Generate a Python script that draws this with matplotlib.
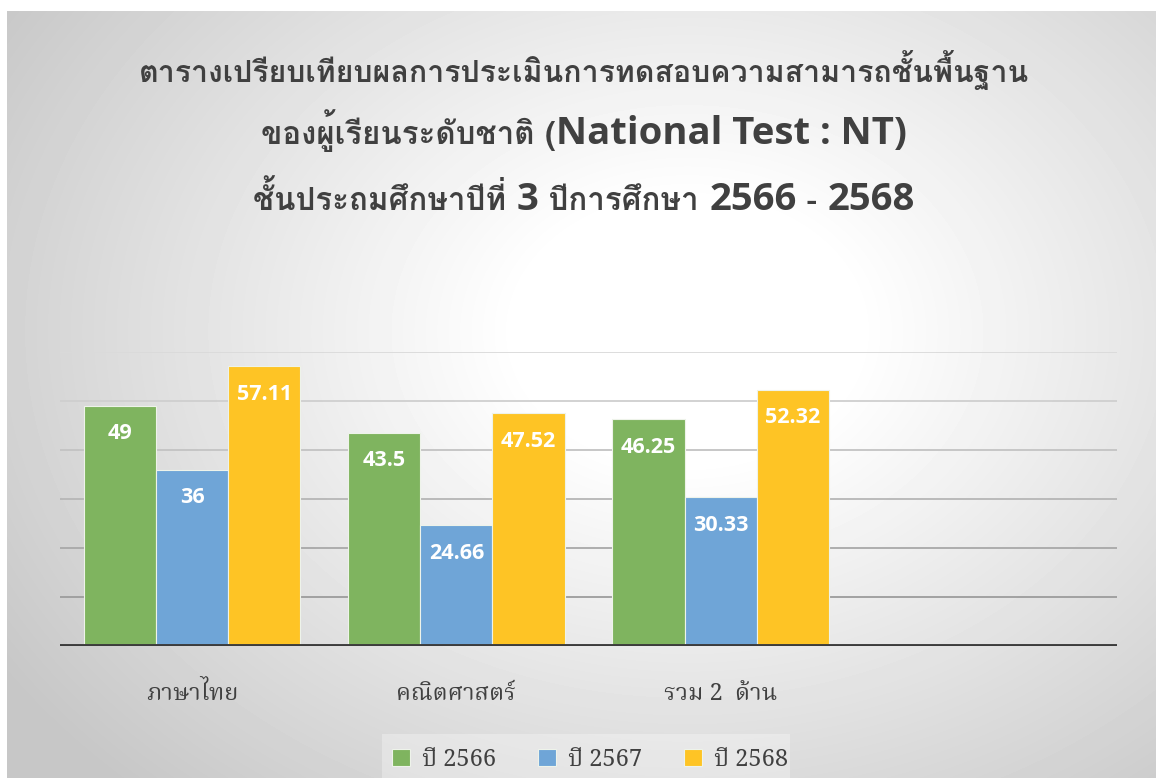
import numpy as np
import matplotlib
matplotlib.use('Agg')
import matplotlib.pyplot as plt
from matplotlib import font_manager
from matplotlib.ft2font import FT2Font
from matplotlib.patches import Rectangle


# ข้อมูล
subjects = ['ภาษาไทย', 'คณิตศาสตร์', 'รวม 2  ด้าน', '']
years = ['ปี 2566', 'ปี 2567', 'ปี 2568']
score_2566 = [49, 43.5, 46.25]
score_2567 = [36, 24.66, 30.33]
score_2568 = [57.11, 47.52, 52.32]
label_2566 = ['49', '43.5', '46.25']
label_2567 = ['36', '24.66', '30.33']
label_2568 = ['57.11', '47.52', '52.32']
colors = ['#7fb45f', '#6fa5d7', '#fec425']


def find_thai_fonts():
    found = {}
    for fe in font_manager.fontManager.ttflist:
        try:
            f = FT2Font(fe.fname)
            if f.get_char_index(ord('ก')) != 0:
                found.setdefault(fe.name, set()).add(fe.weight)
        except Exception:
            pass
    return found


thai_fonts = find_thai_fonts()
prefer = ['Noto Serif Thai', 'Noto Sans Thai', 'Garuda', 'Loma', 'Norasi',
          'Kinnari', 'TH Sarabun New', 'Laksaman', 'Tlwg Typo']


def is_bold(ws):
    return any((isinstance(wv, int) and wv >= 600) or wv == 'bold' for wv in ws)


thai_name = None
thai_bold = None
for p in prefer:
    if p in thai_fonts:
        if thai_name is None:
            thai_name = p
        if thai_bold is None and is_bold(thai_fonts[p]):
            thai_bold = p
if thai_name is None and thai_fonts:
    thai_name = sorted(thai_fonts)[0]
if thai_bold is None:
    thai_bold = thai_name
thai_family = [thai_name, 'DejaVu Sans'] if thai_name else ['DejaVu Sans']
bold_family = [thai_bold, 'DejaVu Sans'] if thai_bold else ['DejaVu Sans']

plt.rcParams['font.family'] = thai_family

fig = plt.figure(figsize=(11.56, 7.78), dpi=100)
W, H = 1156, 778

# พื้นหลังไล่สี
bg = fig.add_axes([7 / W, 0, 1 - 7 / W, 767 / H], zorder=-10)
yy, xx = np.mgrid[0:767, 0:1149]
d = np.sqrt(((xx - 680) / 850.0) ** 2 + ((yy - 320) / 650.0) ** 2)
img = np.clip(1.0 - 0.29 * np.clip(d - 0.2, 0, None), 0.78, 1.0)
bg.imshow(img, cmap='gray', vmin=0, vmax=1, aspect='auto',
          extent=[0, 1, 0, 1], interpolation='bilinear')
bg.set_axis_off()

ax = fig.add_axes([60 / W, (H - 646) / H, (1117 - 60) / W, (646 - 352) / H])
ax.patch.set_alpha(0)

x = np.arange(len(subjects))
n = len(score_2566)
w = 0.273
series = [score_2566, score_2567, score_2568]
labels = [label_2566, label_2567, label_2568]
for i, (vals, labs) in enumerate(zip(series, labels)):
    pos = x[:n] + (i - 1) * w
    ax.bar(pos, vals, width=w, color=colors[i], edgecolor='#eef3ea',
           linewidth=0.8, zorder=3, label=years[i])
    for px, v, t in zip(pos, vals, labs):
        ax.text(px, v - 5.7, t, ha='center', va='center', color='white',
                fontsize=15.5, fontweight='bold', family='Open Sans', zorder=4)

ax.set_xlim(-0.5, 3.5)
ax.set_ylim(0, 60)
grid_cols = ['#9c9c9c', '#a8a8a8', '#b6b6b6', '#c3c3c3', '#cfcfcf', '#dadada']
for k, yv in enumerate(range(10, 61, 10)):
    ax.axhline(yv, color=grid_cols[k], linewidth=1.3, zorder=1)
ax.axhline(0, color='#3c3c3c', linewidth=2.8, zorder=5)
for s in ax.spines.values():
    s.set_visible(False)
ax.set_yticks([])
ax.set_xticks(x)
ax.set_xticklabels(subjects, fontsize=17, color='#404040')
ax.tick_params(axis='x', length=0, pad=26)

# คำอธิบาย
leg_ax = fig.add_axes([0, 0, 1, 1], zorder=-5)
leg_ax.set_axis_off()
leg_ax.add_patch(Rectangle((382 / W, 0), (790 - 382) / W, 44 / H,
                           facecolor='white', alpha=0.3, edgecolor='none'))
leg = ax.legend(loc='center', bbox_to_anchor=(590 / W, 18 / H),
                bbox_transform=fig.transFigure, ncol=3, frameon=False,
                fontsize=17, handlelength=0.75, handleheight=0.75,
                handletextpad=0.5, columnspacing=1.8)
for t in leg.get_texts():
    t.set_color('#404040')

# ชื่อแผนภูมิ
renderer = fig.canvas.get_renderer()
title_col = '#404040'


def mixed_line(parts, ycen):
    objs = []
    for txt, fam, size in parts:
        t = fig.text(0, ycen, txt, family=fam, fontsize=size,
                     fontweight='bold', color=title_col, va='baseline')
        objs.append(t)
    widths = [o.get_window_extent(renderer).width for o in objs]
    total = sum(widths)
    cx = 584
    left = cx - total / 2
    for o, wd in zip(objs, widths):
        o.set_x(left / W)
        left += wd


latin = ['Open Sans', 'DejaVu Sans']
mixed_line([('ตารางเปรียบเทียบผลการประเมินการทดสอบความสามารถชั้นพื้นฐาน',
             bold_family, 21.8)], (H - 82) / H)
mixed_line([('ของผู้เรียนระดับชาติ (', bold_family, 22.5),
            ('National Test : NT)', latin, 27.5)],
           (H - 144) / H)
mixed_line([('ชั้นประถมศึกษาปีที่ ', bold_family, 22.5),
            ('3', latin, 27.5),
            (' ปีการศึกษา ', bold_family, 22.5),
            ('2566', latin, 27.5),
            (' - ', bold_family, 22.5),
            ('2568', latin, 27.5)],
           (H - 210) / H)

fig.savefig('out.png', dpi=100)
